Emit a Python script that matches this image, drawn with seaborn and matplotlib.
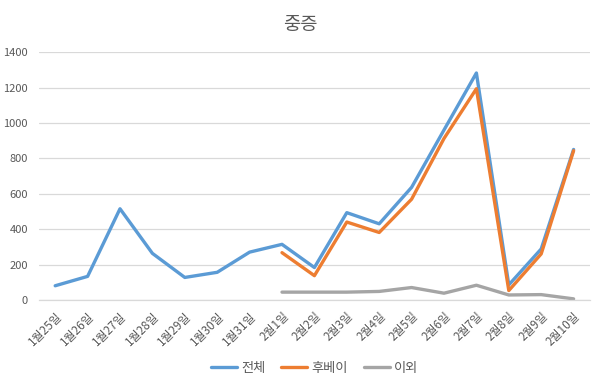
import pandas as pd
import numpy as np
import matplotlib
matplotlib.use("Agg")
import matplotlib.pyplot as plt
import seaborn as sns

# ---------------------------
# Data
# ---------------------------
dates = ["1월25일", "1월26일", "1월27일", "1월28일", "1월29일", "1월30일", "1월31일",
         "2월1일", "2월2일", "2월3일", "2월4일", "2월5일", "2월6일", "2월7일",
         "2월8일", "2월9일", "2월10일"]
total = [80, 133, 515, 263, 127, 156, 270, 314, 183, 493, 430, 636, 960, 1282, 85, 288, 850]
hubei = [np.nan] * 7 + [267, 137, 440, 381, 569, 912, 1193, 53, 260, 843]
others = [np.nan] * 7 + [44, 44, 44, 48, 70, 38, 83, 28, 30, 6]

series_names = ["전체", "후베이", "이외"]
colors = ["#5B9BD5", "#ED7D31", "#A5A5A5"]

df = pd.DataFrame({"idx": range(len(dates)),
                   series_names[0]: total,
                   series_names[1]: hubei,
                   series_names[2]: others})
long_df = df.melt(id_vars="idx", var_name="series", value_name="value").dropna()

# ---------------------------
# Plot
# ---------------------------
sns.set_theme(style="white")
plt.rcParams["font.family"] = ["Noto Sans CJK KR", "DejaVu Sans"]

fig = plt.figure(figsize=(6, 3.86), dpi=100)
ax = fig.add_axes([0.065, 0.223, 0.918, 0.642])

sns.lineplot(data=long_df, x="idx", y="value", hue="series",
             hue_order=series_names, palette=colors, linewidth=2.4, ax=ax)

ax.set_xlim(-0.5, len(dates) - 0.5)
ax.set_ylim(0, 1400)
ax.set_yticks(range(0, 1401, 200))
ax.grid(axis="y", color="#D9D9D9", linewidth=0.9)
ax.set_axisbelow(True)
for s in ["top", "right", "left"]:
    ax.spines[s].set_visible(False)
ax.spines["bottom"].set_color("#D9D9D9")
ax.spines["bottom"].set_linewidth(0.9)

ax.set_xticks(range(len(dates)))
ax.set_xticklabels(dates, rotation=45, ha="right", rotation_mode="anchor",
                   fontsize=8.5, color="#595959")
ax.tick_params(axis="y", labelsize=8, labelcolor="#595959", length=0, pad=8)
ax.tick_params(axis="x", length=0, pad=7)
ax.set_xlabel("")
ax.set_ylabel("")

fig.suptitle("중증", x=0.5, y=0.965, fontsize=13.5, color="#595959")

handles, labels = ax.get_legend_handles_labels()
ax.legend(handles, labels, loc="center", bbox_to_anchor=(0.5, -0.275),
          ncol=3, frameon=False, fontsize=9.5, handlelength=2.0,
          columnspacing=1.2, handletextpad=0.3, labelcolor="#595959")

fig.savefig("out.png", dpi=100)
